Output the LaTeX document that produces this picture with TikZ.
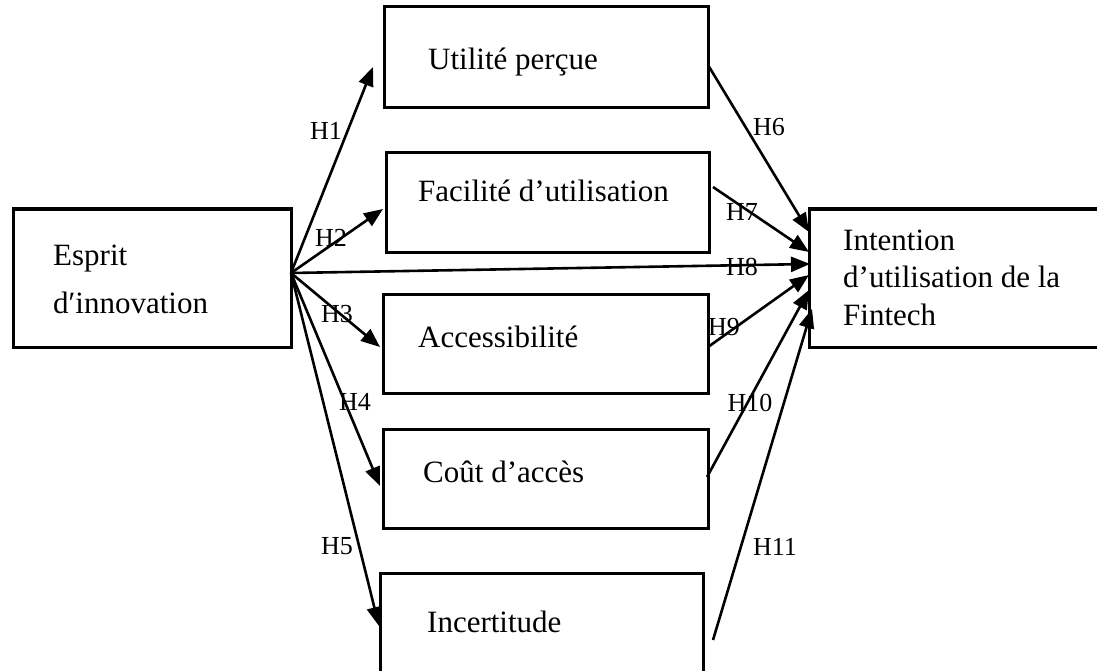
\documentclass[tikz,border=0pt]{standalone}
\usepackage{fontspec}
\setmainfont{Liberation Serif}
\usetikzlibrary{arrows.meta}
\begin{document}
\begin{tikzpicture}[x=1pt,y=-1pt,
  box/.style={draw, line width=3pt, rectangle, inner sep=0pt},
  txt/.style={anchor=base west, inner sep=0pt, font=\fontsize{31}{37}\selectfont},
  hlab/.style={inner sep=0pt, font=\fontsize{26}{30}\selectfont},
  arr/.style={line width=2.6pt, -{Triangle[length=19pt,width=15pt]}}]
\clip (0,0) rectangle (1097,671);
\fill[white] (0,0) rectangle (1097,671);
% boxes
\node[box, minimum width=278pt, minimum height=138pt] (esprit) at (152,278) {};
\node[box, minimum width=324pt, minimum height=101pt] (util) at (546,57.5) {};
\node[box, minimum width=323pt, minimum height=99pt] (fac) at (547.5,202.5) {};
\node[box, minimum width=325pt, minimum height=99pt] (acc) at (545.5,343.5) {};
\node[box, minimum width=325pt, minimum height=99pt] (cout) at (545.5,478.5) {};
\node[box, minimum width=323pt, minimum height=140pt] (inc) at (541.5,643) {};
\node[box, minimum width=300pt, minimum height=138pt] (int) at (959,278) {};
% texts
\node[txt] (tesp1) at (53,265) {Esprit};
\node[txt] (tesp2) at (53,313) {d′innovation};
\node[txt] (tutil) at (428,70) {Utilité perçue};
\node[txt] (tfac) at (418,202) {Facilité d’utilisation};
\node[txt] (tacc) at (418,347) {Accessibilité};
\node[txt] (tcout) at (423,482) {Coût d’accès};
\node[txt] (tinc) at (427,632) {Incertitude};
\node[txt] (tint1) at (843,250) {Intention};
\node[txt] (tint2) at (843,287) {d’utilisation de la};
\node[txt] (tint3) at (843,325) {Fintech};
% coordinates
\coordinate (o) at (291,273);
\coordinate (t1) at (373,67);
\coordinate (t2) at (383,209);
\coordinate (t3) at (380,347);
\coordinate (t4) at (380,486);
\coordinate (t5) at (379,626);
\coordinate (s6) at (708,65);
\coordinate (s7) at (713,187);
\coordinate (s9) at (708,347);
\coordinate (s10) at (707,477);
\coordinate (s11) at (713,640);
\coordinate (e6) at (809,232);
\coordinate (e7) at (809,252);
\coordinate (e8) at (810,264);
\coordinate (e9) at (809,275);
\coordinate (e10) at (809,290);
\coordinate (e11) at (812,309);
% arrows
\draw[arr] (o) -- (t1);
\draw[arr] (o) -- (t2);
\draw[arr] (o) -- (t3);
\draw[arr] (o) -- (t4);
\draw[arr] (o) -- (t5);
\draw[arr] (s6) -- (e6);
\draw[arr] (s7) -- (e7);
\draw[arr] (o) -- (e8);
\draw[arr] (s9) -- (e9);
\draw[arr] (s10) -- (e10);
\draw[arr] (s11) -- (e11);
% labels
\node[hlab] (h1) at (326,131) {H1};
\node[hlab] (h2) at (331,238) {H2};
\node[hlab] (h3) at (337,314) {H3};
\node[hlab] (h4) at (355,402) {H4};
\node[hlab] (h5) at (337,546) {H5};
\node[hlab] (h6) at (769,127) {H6};
\node[hlab] (h7) at (742,212) {H7};
\node[hlab] (h8) at (742,267) {H8};
\node[hlab] (h9) at (724,327) {H9};
\node[hlab] (h10) at (750,403) {H10};
\node[hlab] (h11) at (775,547) {H11};
\end{tikzpicture}
\end{document}
